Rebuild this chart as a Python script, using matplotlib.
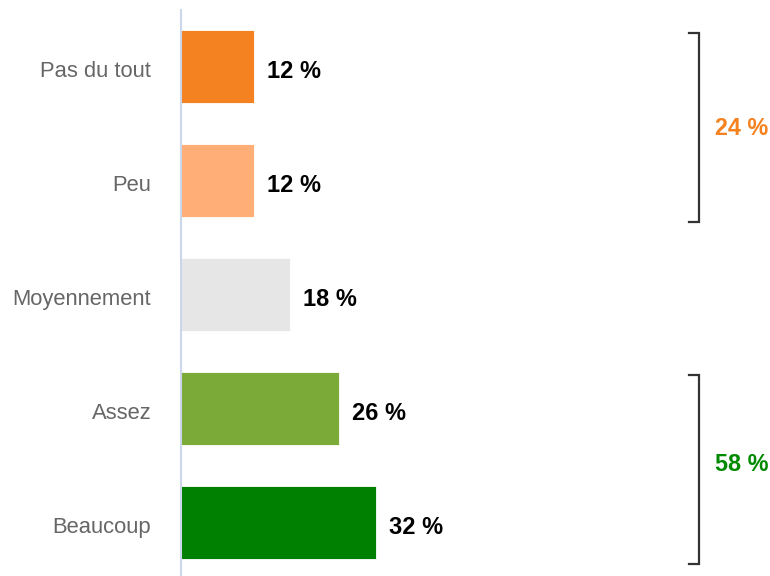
import matplotlib
matplotlib.use("Agg")
import matplotlib.pyplot as plt
from matplotlib.transforms import blended_transform_factory, ScaledTranslation

categories = ["Pas du tout", "Peu", "Moyennement", "Assez", "Beaucoup"]
values = [12, 12, 18, 26, 32]
bar_colors = ["#F58220", "#FFAE78", "#E6E6E6", "#7BAA39", "#008000"]
groups = [(0, 1), (3, 4)]
group_colors = ["#F58220", "#008A00"]
group_label_dy = [0.02, -0.03]

plt.rcParams['font.family'] = ['Liberation Sans', 'DejaVu Sans']

W, H = 770, 576
fig = plt.figure(figsize=(W / 100, H / 100), dpi=100)
left_px, top_px = 180.5, 9.5
px_per_unit = 6.1
band = 114.0
ax = fig.add_axes([left_px / W, 0, 1 - left_px / W, (H - top_px) / H])
ax.set_xlim(0, (W - left_px) / px_per_unit)
ax.set_ylim(-0.5 + (H - top_px) / band, -0.5)

ypos = list(range(len(categories)))
ax.barh(ypos, values, height=0.64, color=bar_colors, edgecolor="white", linewidth=0.6, zorder=2)

for y, v in zip(ypos, values):
    ax.annotate(f"{v} %", xy=(v, y), xytext=(9.4, -1.5), textcoords="offset points",
                ha="left", va="center_baseline", fontsize=17, fontweight="bold", color="black")

ax.set_yticks(ypos)
ax.set_yticklabels(categories, fontsize=15.8, color="#666666")
ax.tick_params(axis="y", length=0, pad=21)
shift = ScaledTranslation(0, -1.5 / 72, fig.dpi_scale_trans)
for lab in ax.get_yticklabels():
    lab.set_transform(lab.get_transform() + shift)
ax.set_xticks([])
for s in ["top", "right", "bottom"]:
    ax.spines[s].set_visible(False)
ax.spines["left"].set_color("#CCD6EB")
ax.spines["left"].set_linewidth(1.5)

tr = blended_transform_factory(fig.transFigure, ax.transData)
xb = 699 / W
xt = 689 / W
for (i, j), c, dy in zip(groups, group_colors, group_label_dy):
    y0 = i - 0.29
    y1 = j + 0.36
    ax.plot([xt, xb, xb, xt], [y0, y0, y1, y1], transform=tr, color="#333333",
            linewidth=1.6, clip_on=False, solid_joinstyle="miter")
    total = sum(values[i:j + 1])
    ax.text(715 / W, (i + j) / 2 + dy, f"{total} %", transform=tr, ha="left",
            va="center_baseline", fontsize=16.8, fontweight="bold", color=c)

fig.savefig("out.png", dpi=100)
